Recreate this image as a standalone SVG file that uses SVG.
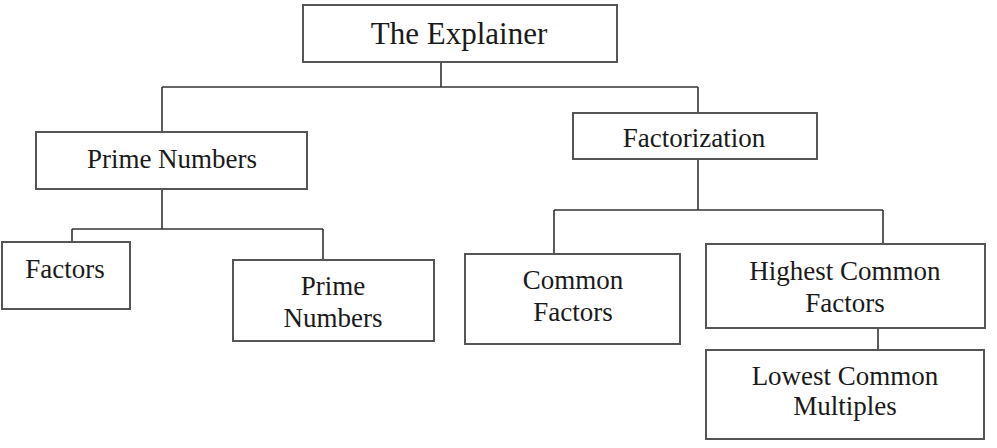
<svg xmlns="http://www.w3.org/2000/svg" width="997" height="448" viewBox="0 0 997 448">
<style>
.box{fill:#fff;stroke:#555;stroke-width:2}
.t{font-family:"Liberation Serif","Times New Roman",serif;font-size:27px;fill:#1a1a1a;text-anchor:middle}
.big{font-size:31px}
.c line{stroke:#333;stroke-width:1.6}
</style>
<rect width="997" height="448" fill="#fff"/>
<g class="c" id="connectors">
<line x1="441" y1="62" x2="441" y2="87"/>
<line x1="162" y1="87" x2="698" y2="87"/>
<line x1="162" y1="87" x2="162" y2="132"/>
<line x1="698" y1="87" x2="698" y2="113"/>
<line x1="162" y1="189" x2="162" y2="229"/>
<line x1="72" y1="229" x2="323" y2="229"/>
<line x1="72" y1="229" x2="72" y2="242"/>
<line x1="323" y1="229" x2="323" y2="260"/>
<line x1="698" y1="159" x2="698" y2="210"/>
<line x1="554" y1="210" x2="883" y2="210"/>
<line x1="554" y1="210" x2="554" y2="254"/>
<line x1="883" y1="210" x2="883" y2="244"/>
<line x1="878" y1="328" x2="878" y2="350"/>
</g>
<g id="explainer"><rect class="box" x="303" y="5" width="314" height="57"/><text class="t big" x="459" y="44">The Explainer</text></g>
<g id="prime-numbers"><rect class="box" x="36" y="132" width="271" height="57"/><text class="t" x="172" y="168">Prime Numbers</text></g>
<g id="factorization"><rect class="box" x="573" y="113" width="244" height="46"/><text class="t" x="694" y="147">Factorization</text></g>
<g id="factors"><rect class="box" x="2" y="242" width="128" height="67"/><text class="t" x="65" y="278">Factors</text></g>
<g id="prime-numbers-2"><rect class="box" x="233" y="260" width="201" height="81"/><text class="t" x="333" y="295">Prime</text><text class="t" x="333" y="327">Numbers</text></g>
<g id="common-factors"><rect class="box" x="465" y="254" width="215" height="90"/><text class="t" x="573" y="289">Common</text><text class="t" x="573" y="321">Factors</text></g>
<g id="hcf"><rect class="box" x="706" y="244" width="279" height="84"/><text class="t" x="845" y="280">Highest Common</text><text class="t" x="845" y="312">Factors</text></g>
<g id="lcm"><rect class="box" x="706" y="350" width="278" height="89"/><text class="t" x="845" y="385">Lowest Common</text><text class="t" x="845" y="415">Multiples</text></g>
</svg>
